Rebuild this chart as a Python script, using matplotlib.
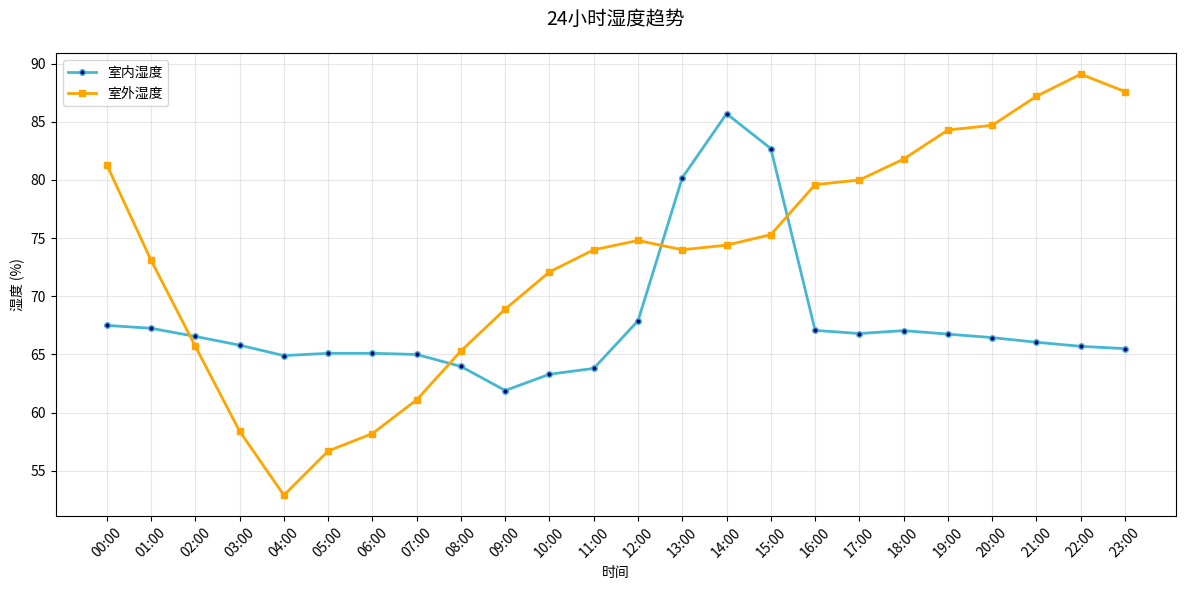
import matplotlib
matplotlib.use('Agg')
import matplotlib.pyplot as plt

plt.rcParams['font.family'] = ['Noto Sans CJK SC', 'DejaVu Sans']
plt.rcParams['axes.unicode_minus'] = False

hours = [f'{h:02d}:00' for h in range(24)]
indoor = [67.5, 67.25, 66.55, 65.8, 64.9, 65.1, 65.1, 65.0, 63.97, 61.9, 63.3, 63.8,
          67.9, 80.2, 85.7, 82.7, 67.07, 66.8, 67.05, 66.75, 66.45, 66.05, 65.7, 65.5]
outdoor = [81.3, 73.1, 65.7, 58.4, 52.9, 56.7, 58.2, 61.1, 65.3, 68.9, 72.1, 74.0,
           74.8, 74.0, 74.4, 75.3, 79.6, 80.0, 81.8, 84.3, 84.7, 87.2, 89.1, 87.6]

fig, ax = plt.subplots(figsize=(11.89, 5.9), dpi=100)
ax.plot(hours, indoor, color='#45B7D1', linewidth=2, marker='o', markersize=4,
        markerfacecolor='navy', label='室内湿度')
ax.plot(hours, outdoor, color='orange', linewidth=2, marker='s', markersize=5,
        label='室外湿度')

ax.set_title('24小时湿度趋势', fontsize=14, pad=20)
ax.set_xlabel('时间')
ax.set_ylabel('湿度 (%)')
ax.grid(True, alpha=0.3)
ax.legend(loc='upper left')
plt.xticks(rotation=45)
plt.subplots_adjust(left=0.047, right=0.989, top=0.91, bottom=0.125)
plt.savefig('out.png')
